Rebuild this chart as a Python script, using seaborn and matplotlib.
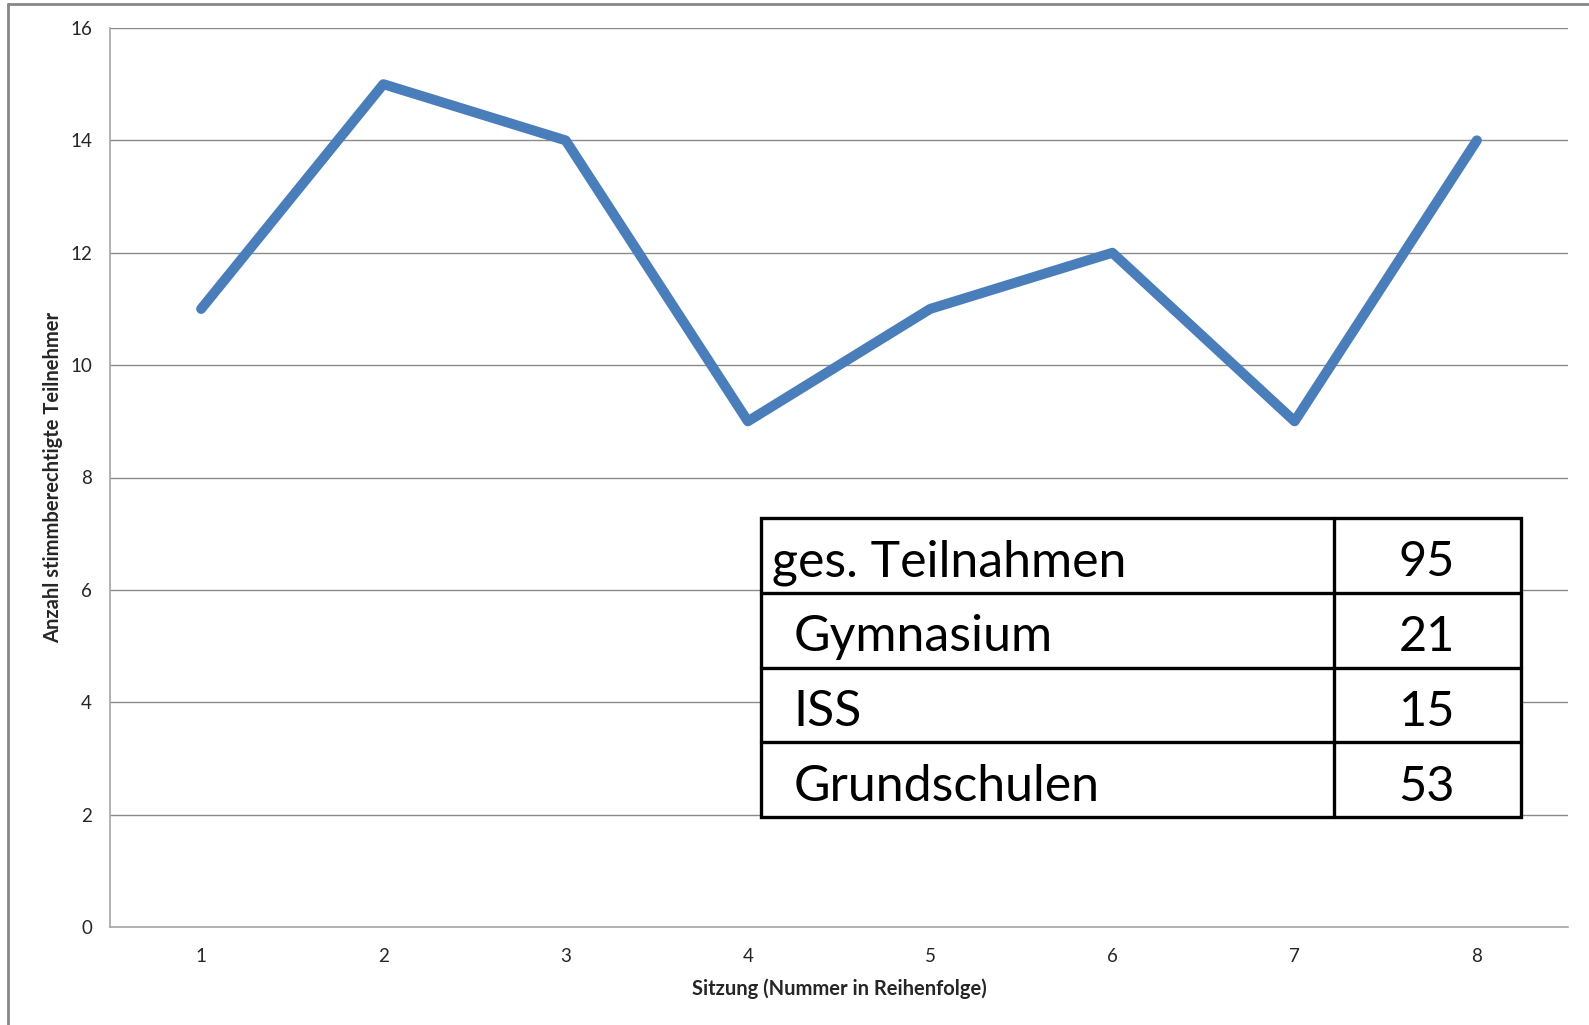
import matplotlib
matplotlib.use("Agg")
import matplotlib.pyplot as plt
from matplotlib.lines import Line2D
from matplotlib.patches import Rectangle
import seaborn as sns
import pandas as pd

sessions = [1, 2, 3, 4, 5, 6, 7, 8]
participants = [11, 15, 14, 9, 11, 12, 9, 14]
y_ticks = [0, 2, 4, 6, 8, 10, 12, 14, 16]

table_labels = ["ges. Teilnahmen", "Gymnasium", "ISS", "Grundschulen"]
table_values = [95, 21, 15, 53]

x_label = "Sitzung (Nummer in Reihenfolge)"
y_label = "Anzahl stimmberechtigte Teilnehmer"

W, H = 1589, 1025


def fx(px):
    return px / W


def fy(py):
    return 1 - py / H


def main():
    sns.set_style("white")
    plt.rcParams["font.family"] = ["Lato", "DejaVu Sans"]

    fig = plt.figure(figsize=(W / 100, H / 100), dpi=100)
    ax = fig.add_axes([fx(110), fy(927), fx(1568) - fx(110), fy(28) - fy(927)])

    df = pd.DataFrame({"Sitzung": sessions, "Teilnehmer": participants})
    sns.lineplot(data=df, x="Sitzung", y="Teilnehmer", ax=ax, color="#4a7ebb",
                 linewidth=7.2, solid_capstyle="round", solid_joinstyle="round",
                 zorder=3)

    ax.set_xlim(sessions[0] - 0.5, sessions[-1] + 0.5)
    ax.set_ylim(y_ticks[0], y_ticks[-1])
    ax.set_yticks(y_ticks)
    ax.set_xticks(sessions)
    ax.set_xticks([s - 0.5 for s in sessions] + [sessions[-1] + 0.5], minor=True)
    ax.grid(axis="y", color="#8a8a8a", linewidth=1.0)
    ax.set_axisbelow(True)

    for s in ["top", "right"]:
        ax.spines[s].set_visible(False)
    for s in ["left", "bottom"]:
        ax.spines[s].set_color("#a6a6a6")
        ax.spines[s].set_linewidth(1.2)

    ax.tick_params(axis="y", which="major", length=5, width=1, color="#a6a6a6",
                   direction="out", pad=8, labelsize=13.5, labelcolor="#262626")
    ax.tick_params(axis="x", which="major", length=0, pad=15, labelsize=13.5,
                   labelcolor="#262626")
    ax.tick_params(axis="x", which="minor", length=5, width=1, color="#a6a6a6",
                   direction="out")

    ax.set_xlabel(x_label, fontsize=14.5, fontweight="bold", color="#262626")
    ax.set_ylabel(y_label, fontsize=14.5, fontweight="bold", color="#262626")
    ax.xaxis.set_label_coords(0.5, -0.057)
    ax.yaxis.set_label_coords(-0.032, 0.5)

    # outer chart frame (cut off at right and bottom)
    fig.add_artist(Line2D([fx(8), fx(8)], [0, fy(4)], transform=fig.transFigure,
                          color="#878787", linewidth=2))
    fig.add_artist(Line2D([fx(8), 1], [fy(4), fy(4)], transform=fig.transFigure,
                          color="#878787", linewidth=2))

    # summary table
    tab = fig.add_axes([fx(761), fy(817), fx(1521) - fx(761), fy(518) - fy(817)])
    tab.set_xlim(0, 1)
    tab.set_ylim(len(table_labels), 0)
    tab.axis("off")
    tab.add_patch(Rectangle((0, 0), 1, len(table_labels), facecolor="white",
                            edgecolor="black", linewidth=2.4, clip_on=False))
    tab.plot([0.754, 0.754], [0, len(table_labels)], color="black", lw=2.4,
             clip_on=False)
    for i in range(1, len(table_labels)):
        tab.plot([0, 1], [i, i], color="black", lw=2.4, clip_on=False)
    for i, (lab, val) in enumerate(zip(table_labels, table_values)):
        x0 = 0.0145 if i == 0 else 0.043
        tab.text(x0, i + 0.78, lab, fontsize=36, ha="left", va="baseline",
                 color="black")
        tab.text(0.876, i + 0.78, str(val), fontsize=35, ha="center",
                 va="baseline", color="black")

    fig.savefig("out.png", dpi=100, facecolor="white")


if __name__ == "__main__":
    main()
